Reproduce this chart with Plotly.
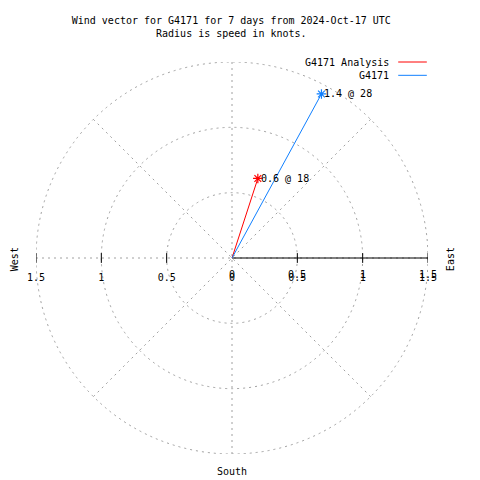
import numpy as np
import plotly.graph_objects as go

# ---------------- data ----------------
series_names = ["G4171 Analysis", "G4171"]
speeds_kn = [0.64, 1.43]
directions_deg = [18, 28.6]
series_colors = ["#ff0000", "#1080ff"]

ring_radii = [0.5, 1.0, 1.5]
spoke_angles_deg = [0, 45, 90, 135]
tick_values = [-1.5, -1.0, -0.5, 0.0, 0.5, 1.0, 1.5]
tick_labels = ["1.5", "1", "0.5", "0", "0.5", "1", "1.5"]
radial_tick_values = [0.0, 0.5, 1.0, 1.5]
radial_tick_labels = ["0", "0.5", "1", "1.5"]
title_lines = ["Wind vector for G4171 for 7 days from 2024-Oct-17 UTC",
               "Radius is speed in knots."]
compass_names = ["West", "East", "South"]

FONT = "DejaVu Sans Mono"
GRID = "#a0a0a0"
rmax = max(ring_radii)

fig = go.Figure()

# solid positive x axis (0 .. rmax)
fig.add_trace(go.Scatter(x=[0, rmax], y=[0, 0], mode="lines",
                         line=dict(color="black", width=1),
                         hoverinfo="skip", showlegend=False))
# tick marks crossing the axis
tv = [v for v in tick_values if v != 0]
fig.add_trace(go.Scatter(x=tv, y=[0] * len(tv), mode="markers",
                         marker=dict(symbol="line-ns-open", size=7, color="black",
                                     line=dict(color="black", width=1)),
                         hoverinfo="skip", showlegend=False))

# wind vectors
annotations = []
for name, spd, ang, col in zip(series_names, speeds_kn, directions_deg, series_colors):
    ex = spd * np.sin(np.radians(ang))
    ey = spd * np.cos(np.radians(ang))
    fig.add_trace(go.Scatter(x=[0, ex], y=[0, ey], mode="lines",
                             line=dict(color=col, width=1),
                             name=name, showlegend=False))
    fig.add_trace(go.Scatter(x=[ex], y=[ey], mode="markers",
                             marker=dict(symbol="asterisk-open", size=8, color=col,
                                         line=dict(color=col, width=1.2)),
                             showlegend=False, hoverinfo="skip"))
    annotations.append(dict(x=ex, y=ey, xref="x", yref="y",
                            text=f"{spd:.1f} @ {int(ang)}", showarrow=False,
                            xanchor="left", yanchor="middle", xshift=1,
                            font=dict(family=FONT, size=10, color="black")))

# grid rings & spokes
shapes = []
for r in ring_radii:
    shapes.append(dict(type="circle", xref="x", yref="y", x0=-r, y0=-r, x1=r, y1=r,
                       line=dict(color=GRID, width=1, dash="2px,4px"), layer="below"))
for a in spoke_angles_deg:
    c, s = np.cos(np.radians(a)), np.sin(np.radians(a))
    shapes.append(dict(type="line", xref="x", yref="y",
                       x0=-rmax * c, y0=-rmax * s, x1=rmax * c, y1=rmax * s,
                       line=dict(color=GRID, width=1, dash="2px,4px"), layer="below"))

# ghost radial tick labels (second label set)
for v, t in zip(radial_tick_values, radial_tick_labels):
    annotations.append(dict(x=v, y=0, xref="x", yref="y", text=t, showarrow=False,
                            xanchor="center", yanchor="middle", yshift=-16,
                            font=dict(family=FONT, size=10, color="black")))

# manual legend: text on left, line sample on right
leg_rows_y = [1.0, 0.966]
for name, col, yy in zip(series_names, series_colors, leg_rows_y):
    annotations.append(dict(x=0.9065, y=yy, xref="paper", yref="paper", text=name,
                            showarrow=False, xanchor="right", yanchor="middle",
                            font=dict(family=FONT, size=10, color="black")))
    shapes.append(dict(type="line", xref="paper", yref="paper",
                       x0=0.924, x1=0.997, y0=yy, y1=yy,
                       line=dict(color=col, width=1)))

# compass labels
compass_pos = {"West": (-0.0561, 0.497, -90), "East": (1.056, 0.497, -90),
               "South": (0.5, -0.0434, 0)}
for nm in compass_names:
    px, py, rot = compass_pos[nm]
    annotations.append(dict(x=px, y=py, xref="paper", yref="paper", text=nm,
                            showarrow=False, textangle=rot,
                            xanchor="center", yanchor="middle",
                            font=dict(family=FONT, size=10, color="black")))

fig.update_layout(
    width=480, height=480, autosize=False,
    margin=dict(l=28, r=60, t=54, b=34, pad=0),
    paper_bgcolor="white", plot_bgcolor="white",
    title=dict(text="<br>".join(title_lines), x=0.4652, xanchor="center",
               y=1 - 16.3 / 480, yanchor="top", yref="container",
               font=dict(family=FONT, size=10, color="black")),
    xaxis=dict(range=[-rmax, rmax], showgrid=False, zeroline=False, showline=False,
               anchor="free", position=0.5, tickvals=tick_values, ticktext=tick_labels,
               ticks="", ticklabelstandoff=12, fixedrange=True,
               tickfont=dict(family=FONT, size=10, color="black")),
    yaxis=dict(range=[-rmax, rmax], visible=False, fixedrange=True),
    shapes=shapes, annotations=annotations, showlegend=False,
)

fig.write_html("out.html")
